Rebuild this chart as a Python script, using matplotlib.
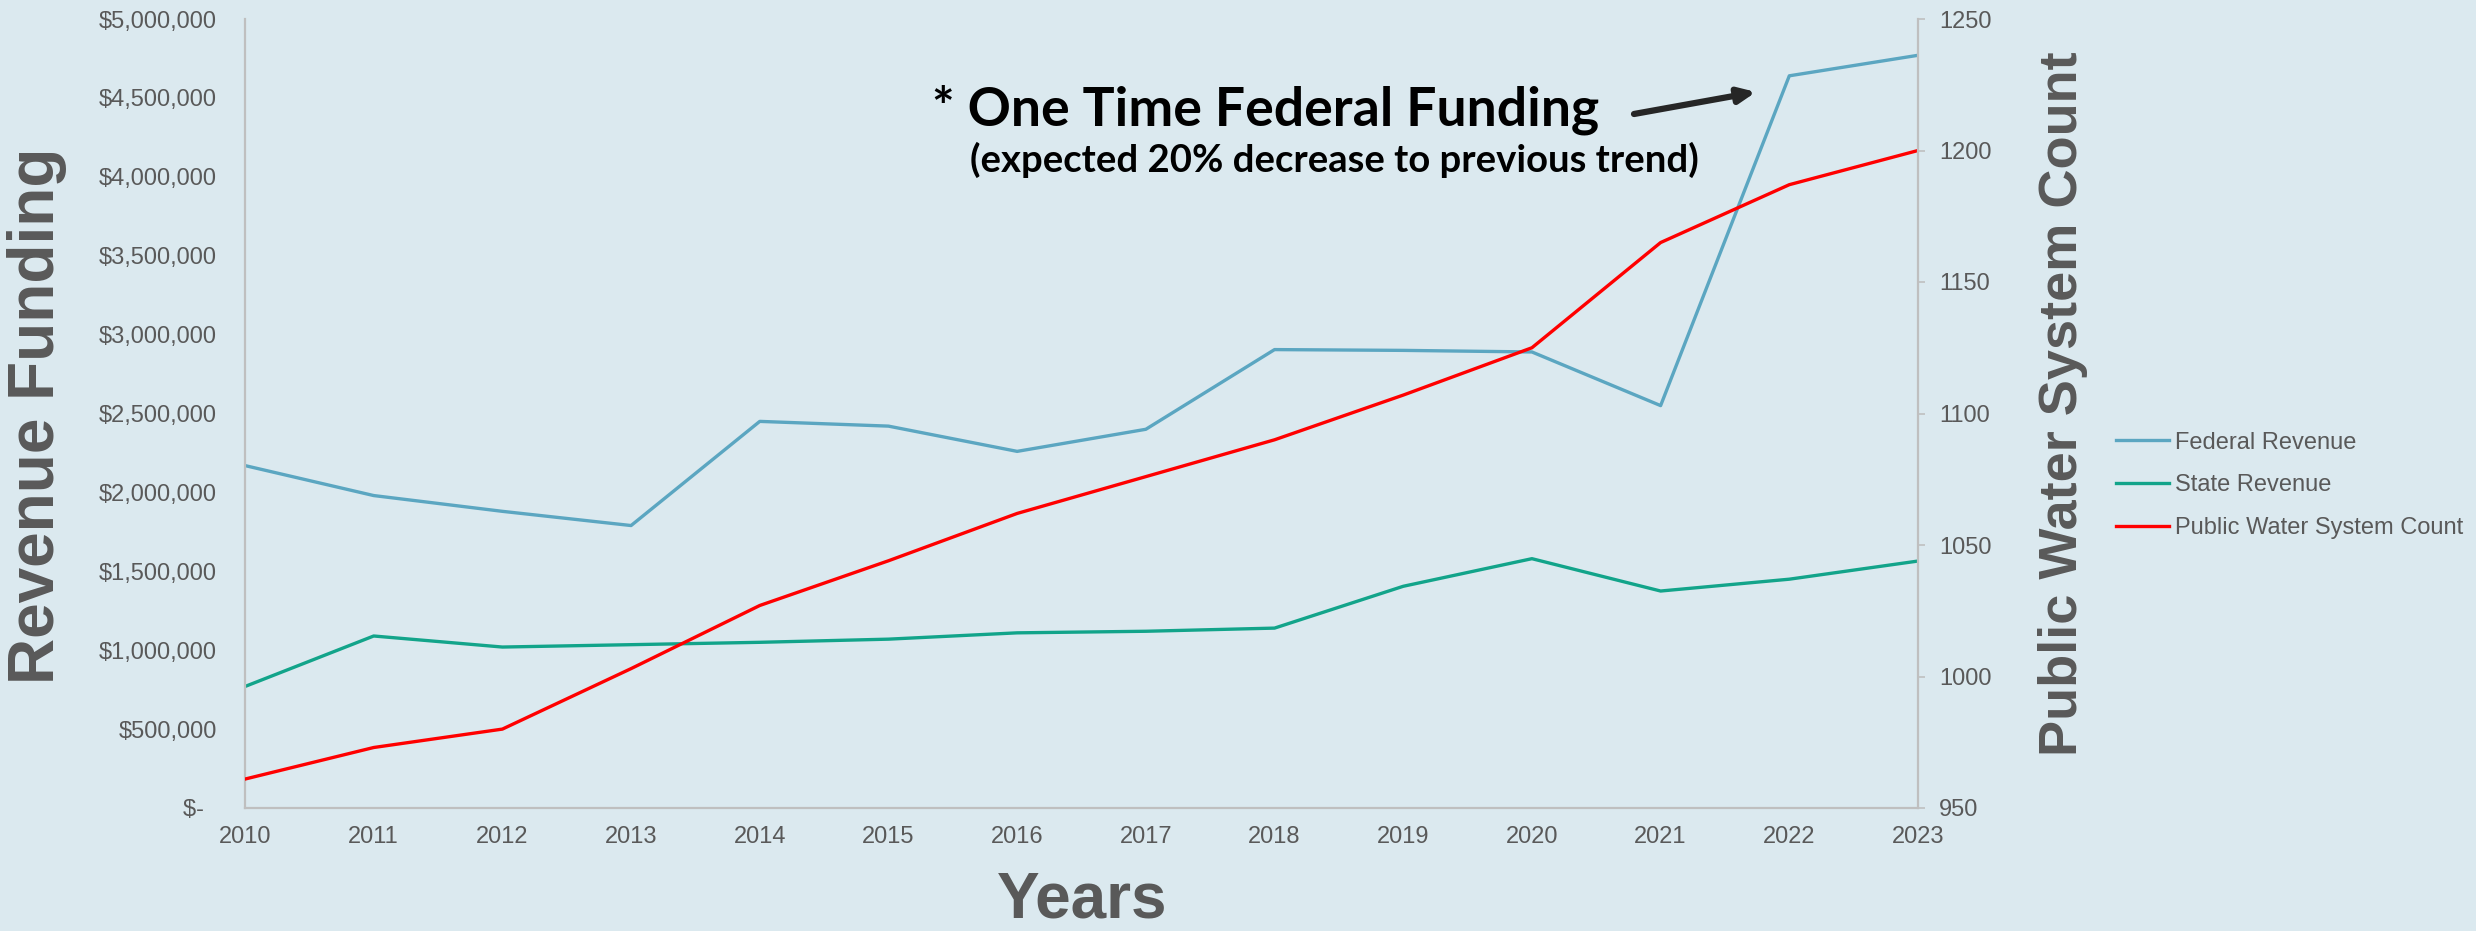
import matplotlib
matplotlib.use("Agg")
from matplotlib import pyplot as plt
from matplotlib.ticker import FuncFormatter, MultipleLocator

# values
years = [2010, 2011, 2012, 2013, 2014, 2015, 2016, 2017, 2018, 2019, 2020, 2021, 2022, 2023]
federal_revenue = [2170000, 1980000, 1880000, 1790000, 2450000, 2420000, 2260000,
                   2400000, 2905000, 2900000, 2890000, 2550000, 4640000, 4770000]
state_revenue = [770000, 1090000, 1020000, 1035000, 1050000, 1070000, 1110000,
                 1120000, 1140000, 1405000, 1580000, 1375000, 1450000, 1565000]
water_systems = [961, 973, 980, 1003, 1027, 1044, 1062, 1076, 1090, 1107, 1125, 1165, 1187, 1200]

BG = "#dbe9ef"
GREY = "#595959"
SPINE = "#bfbfbf"
W, H = 2476, 931

fig = plt.figure(figsize=(W / 100, H / 100), dpi=100, facecolor=BG)
ax = fig.add_axes([245 / W, 1 - 808 / H, (1918 - 245) / W, (808 - 19) / H])
ax.set_facecolor(BG)
ax2 = ax.twinx()

l1, = ax.plot(years, federal_revenue, color="#5ba6c1", lw=2.4, label="Federal Revenue")
l2, = ax.plot(years, state_revenue, color="#12a48a", lw=2.4, label="State Revenue")
l3, = ax2.plot(years, water_systems, color="#ff0000", lw=2.4, label="Public Water System Count")

ax.set_xlim(2010, 2023)
ax.set_ylim(0, 5000000)
ax2.set_ylim(950, 1250)
ax.set_xticks(years)
ax.yaxis.set_major_locator(MultipleLocator(500000))
ax2.yaxis.set_major_locator(MultipleLocator(50))

def money(v, pos):
    if v == 0:
        return "$-  "
    return "${:,.0f}".format(v)

ax.yaxis.set_major_formatter(FuncFormatter(money))

font = ["Liberation Sans", "DejaVu Sans"]
for a in (ax, ax2):
    for s in a.spines.values():
        s.set_visible(False)
ax.spines["left"].set_visible(True)
ax.spines["bottom"].set_visible(True)
ax2.spines["right"].set_visible(True)
for s in (ax.spines["left"], ax.spines["bottom"], ax2.spines["right"]):
    s.set_color(SPINE)
    s.set_linewidth(1.6)

ax.tick_params(axis="y", length=0, pad=20, labelsize=17, labelcolor=GREY)
ax.tick_params(axis="x", length=0, pad=13, labelsize=17, labelcolor=GREY)
ax2.tick_params(axis="y", length=5, width=1.2, color=SPINE, pad=10, labelsize=17, labelcolor=GREY)
for lab in ax.get_xticklabels() + ax.get_yticklabels() + ax2.get_yticklabels():
    lab.set_family(font)

# axis titles
fig.text(37 / W, 1 - 416 / H, "Revenue Funding", rotation=90, ha="center", va="center",
         fontsize=46, fontweight="bold", color=GREY, family=font)
fig.text(2063 / W, 1 - 404 / H, "Public Water System Count", rotation=90, ha="center",
         va="center", fontsize=39, fontweight="bold", color=GREY, family=font)
fig.text(1082 / W, 1 / H, "Years", ha="center", va="bottom",
         fontsize=46, fontweight="bold", color=GREY, family=font)

leg = ax.legend(handles=[l1, l2, l3], loc="center left", bbox_to_anchor=(1.1058, 0.409),
                frameon=False, handlelength=2.25, handletextpad=0.25,
                labelspacing=0.88, prop={"family": font, "size": 17})
for t in leg.get_texts():
    t.set_color(GREY)

# annotation for the 2022 spike
fig.text(1266 / W, 1 - 110 / H, "* One Time Federal Funding", ha="center", va="center",
         fontsize=38.5, fontweight="bold", family=["Lato", "DejaVu Sans"], color="black")
fig.text(1334 / W, 1 - 160 / H, "(expected 20% decrease to previous trend)", ha="center",
         va="center", fontsize=27.5, fontweight="bold", family=["Lato", "DejaVu Sans"], color="black")
ax.annotate("", xy=(1756 / W, 1 - 92 / H), xytext=(1634 / W, 1 - 114 / H),
            xycoords="figure fraction", textcoords="figure fraction",
            arrowprops=dict(arrowstyle="-|>,head_length=1.0,head_width=0.45", color="#262626",
                            lw=4.5, shrinkA=0, shrinkB=0))

fig.savefig("out.png", dpi=100, facecolor=BG)
